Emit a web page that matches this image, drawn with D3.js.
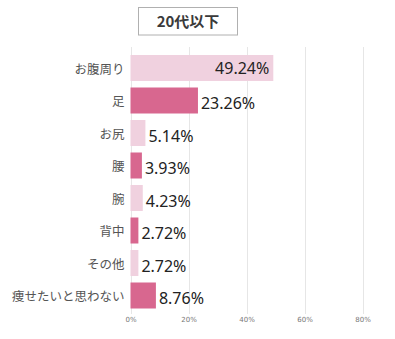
<!DOCTYPE html>
<html><head><meta charset="utf-8">
<script src="https://cdn.jsdelivr.net/npm/d3@7"></script>
<style>
html,body{margin:0;padding:0;background:#fff;}
svg{display:block;}
</style></head>
<body><div id="chart"></div>
<script>
const title = "20代以下";
const categories = ["お腹周り","足","お尻","腰","腕","背中","その他","痩せたいと思わない"];
const values = [49.24, 23.26, 5.14, 3.93, 4.23, 2.72, 2.72, 8.76];
const colorKeys = ["light","dark","light","dark","light","dark","light","dark"];
const tickValues = [0, 20, 40, 60, 80];
const tickLabels = ["0%","20%","40%","60%","80%"];

const W = 395, H = 339;
const svg = d3.select("#chart").append("svg").attr("width", W).attr("height", H);
const colors = {light:"#f0d1df", dark:"#d8678f"};

const x = d3.scaleLinear().domain([0, 80]).range([130.5, 362.5]);
const y = d3.scaleBand().domain(categories).range([51.75, 311.75]).paddingInner(0.2).paddingOuter(0.1);

// title box
svg.append("rect").attr("x", 138.5).attr("y", 7.5).attr("width", 99).attr("height", 27.5)
  .attr("fill", "#fff").attr("stroke", "#b0b0b0").attr("stroke-width", 1);
svg.append("text").attr("x", 188).attr("y", 27).attr("text-anchor", "middle")
  .attr("font-family", "'Noto Sans CJK JP', sans-serif").attr("font-weight", "bold")
  .attr("font-size", 15).attr("fill", "#3a3a3a").text(title);

// gridlines
svg.append("g").selectAll("line").data(tickValues).join("line")
  .attr("x1", d => Math.round(x(d)) + 0.5).attr("x2", d => Math.round(x(d)) + 0.5)
  .attr("y1", 47).attr("y2", 314)
  .attr("stroke", "#e6e6e6").attr("stroke-width", 1);

// axis
const axis = d3.axisBottom(x).tickValues(tickValues).tickFormat((d, i) => tickLabels[i]).tickSize(0).tickPadding(0);
const ag = svg.append("g").attr("transform", "translate(0,317)").call(axis);
ag.select(".domain").remove();
ag.selectAll("text").attr("font-family", "Verdana, 'DejaVu Sans', sans-serif").attr("font-size", 7).attr("fill", "#777");

// bars
svg.append("g").selectAll("rect").data(values).join("rect")
  .attr("x", x(0)).attr("y", (d, i) => y(categories[i]))
  .attr("width", d => x(d) - x(0)).attr("height", y.bandwidth())
  .attr("fill", (d, i) => colors[colorKeys[i]]);

// category labels
svg.append("g").selectAll("text").data(categories).join("text")
  .attr("x", 124.5).attr("y", d => y(d) + y.bandwidth() / 2 + 5.5)
  .attr("text-anchor", "end")
  .attr("font-family", "'Noto Sans CJK JP', sans-serif").attr("font-size", 12.5)
  .attr("fill", "#555").text(d => d);

// value labels
svg.append("g").selectAll("text").data(values).join("text")
  .attr("x", d => d > 40 ? x(d) - 4 : x(d) + 3)
  .attr("y", (d, i) => y(categories[i]) + y.bandwidth() / 2 + (d > 40 ? 6 : 8.5))
  .attr("text-anchor", d => d > 40 ? "end" : "start")
  .attr("font-family", "'Noto Sans', sans-serif").attr("font-size", 16)
  .attr("fill", "#222").text(d => d.toFixed(2) + "%");
</script></body></html>
